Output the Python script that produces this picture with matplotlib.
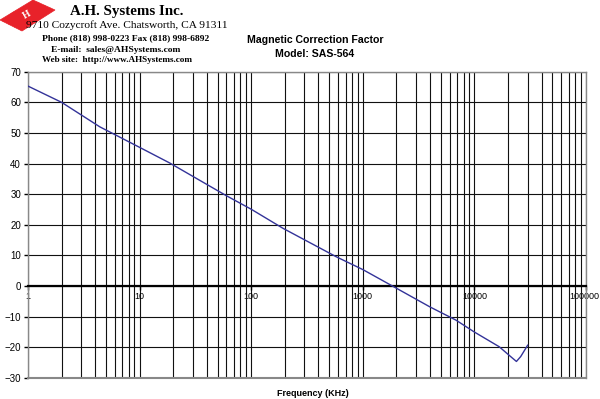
#!/usr/bin/env python3

import numpy as np
import matplotlib
matplotlib.use('Agg')
import matplotlib.pyplot as plt
import matplotlib.transforms as mtrans
from matplotlib.patches import Polygon
from matplotlib.ticker import LogLocator, FixedLocator, NullFormatter


freq = [1, 2, 4.4, 10, 18.6, 60, 100, 192, 577, 1000, 1850, 4000, 6830,
	10000, 16700, 20500, 23800, 26000, 30000]
factor = [65.3, 60.0, 52.0, 45.3, 40.2, 29.5, 25.1, 18.9, 9.6, 5.4, 0.0,
	-6.8, -11.1, -15.0, -19.8, -22.6, -24.6, -23.0, -19.3]

xticks = [1, 10, 100, 1000, 10000, 100000]
xlabels = ["1", "10", "100", "1000", "10000", "100000"]
yticks = [-30, -20, -10, 0, 10, 20, 30, 40, 50, 60, 70]

W, H = 600, 399


def main():
	fig = plt.figure(figsize=(W / 100, H / 100), dpi=100)
	ax = fig.add_axes([28 / W, 1 - 378 / H, (586 - 28) / W, (378 - 71.7) / H])

	ax.plot(freq, factor, color='#333399', lw=1.0, zorder=4)
	ax.set_xscale('log')
	ax.set_xlim(1, 100000)
	ax.set_ylim(-30, 70)

	# grid: all decades and sub-decades, every 10 units
	ax.xaxis.set_major_locator(FixedLocator(xticks))
	ax.xaxis.set_minor_locator(LogLocator(base=10, subs=np.arange(2, 10)))
	ax.xaxis.set_minor_formatter(NullFormatter())
	ax.set_xticks(xticks, xlabels)
	ax.set_yticks(yticks)
	ax.grid(True, which='both', axis='x', color='#111111', lw=0.8)
	ax.grid(True, which='major', axis='y', color='#111111', lw=0.8)
	ax.set_axisbelow(True)

	for s in ['left', 'right', 'top']:
		ax.spines[s].set_color('#888888')
		ax.spines[s].set_linewidth(1.0)
	ax.spines['bottom'].set_position(('data', 0))
	ax.spines['bottom'].set_color('black')
	ax.spines['bottom'].set_linewidth(1.6)
	ax.axhline(-30, color='#888888', lw=1.5, clip_on=False)

	ax.tick_params(axis='x', which='major', direction='out', length=3,
		width=1, pad=1, labelsize=6.5, colors='black')
	ax.tick_params(axis='x', which='minor', length=0)
	ax.tick_params(axis='y', direction='out', length=3, width=1, pad=2,
		labelsize=7)
	for t in ax.get_xticklabels():
		t.set_fontfamily('Liberation Sans')
	for t in ax.get_yticklabels():
		t.set_fontfamily('Liberation Sans')
	# keep the last label inside the picture
	last = ax.get_xticklabels()[-1]
	last.set_transform(last.get_transform() +
		mtrans.ScaledTranslation(-1.5 / 100, 0, fig.dpi_scale_trans))

	fig.text(313 / W, 1 - 393 / H, "Frequency (KHz)", ha='center', va='center',
		fontsize=6.5, fontweight='bold', family='Liberation Sans')

	# chart title
	fig.text(315 / W, 1 - 40 / H, "Magnetic Correction Factor", ha='center',
		va='center', fontsize=7.6, fontweight='bold', family='Liberation Sans')
	fig.text(315 / W, 1 - 54 / H, "Model: SAS-564", ha='center',
		va='center', fontsize=7.6, fontweight='bold', family='Liberation Sans')

	# company header
	serif = 'Liberation Serif'
	fig.text(127 / W, 1 - 11 / H, "A.H. Systems Inc.", ha='center', va='center',
		fontsize=10.8, fontweight='bold', family=serif)
	fig.text(127 / W, 1 - 25 / H, "9710 Cozycroft Ave. Chatsworth, CA 91311",
		ha='center', va='center', fontsize=8.2, family=serif)
	fig.text(125.5 / W, 1 - 38 / H, "Phone (818) 998-0223 Fax (818) 998-6892",
		ha='center', va='center', fontsize=6.8, fontweight='bold', family=serif)
	fig.text(115.5 / W, 1 - 50 / H, "E-mail:  sales@AHSystems.com",
		ha='center', va='center', fontsize=6.8, fontweight='bold', family=serif)
	fig.text(117 / W, 1 - 60 / H, "Web site:  http://www.AHSystems.com",
		ha='center', va='center', fontsize=6.6, fontweight='bold', family=serif)

	# logo: red tilted block
	def px(x, y):
		return (x / W, 1 - y / H)
	logo = Polygon([px(0, 20), px(33, 0), px(55, 10), px(22, 31)],
		closed=True, transform=fig.transFigure, facecolor='#e8222a',
		edgecolor='#e8222a', hatch='////', lw=0.5)
	fig.add_artist(logo)
	fig.text(27 / W, 1 - 15 / H, "H", ha='center', va='center', fontsize=7,
		fontweight='bold', color='white', rotation=30, family=serif)

	fig.savefig("out.png", dpi=100)


if __name__ == "__main__":
	main()
